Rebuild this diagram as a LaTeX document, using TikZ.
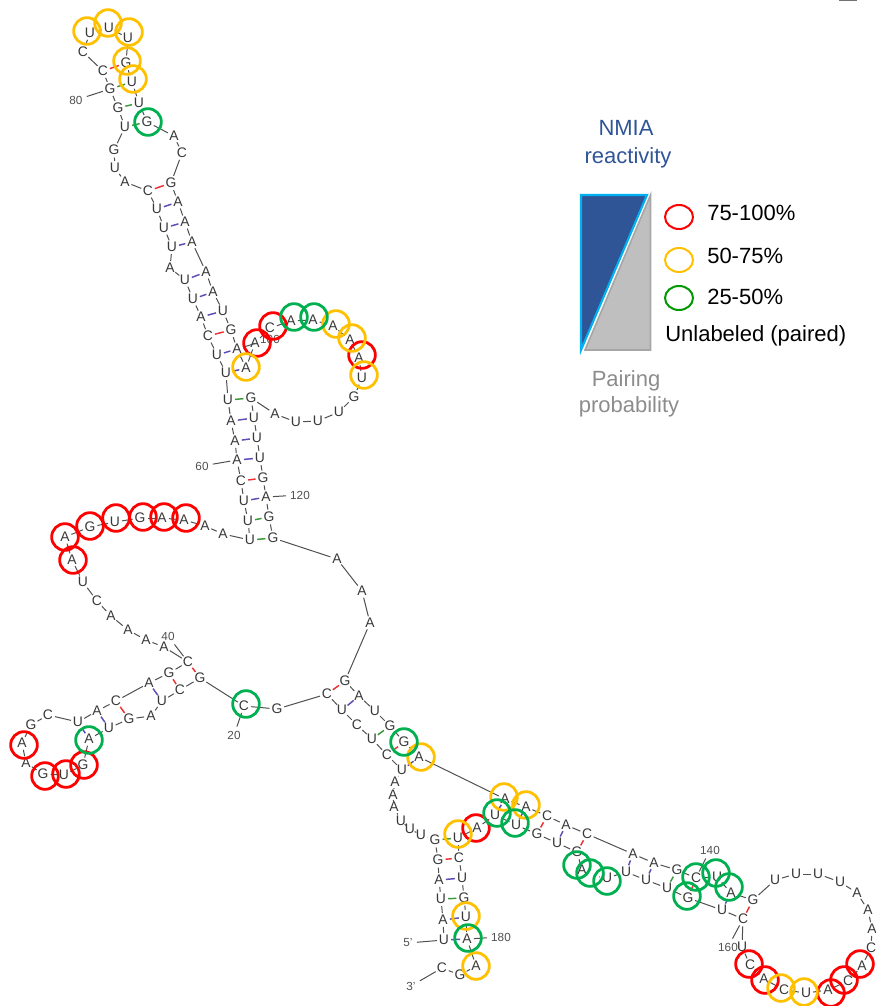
\documentclass[tikz,border=0pt]{standalone}
\usepackage{fontspec}
\setmainfont{Liberation Sans}
\definecolor{ink}{HTML}{383838}
\definecolor{backb}{HTML}{505050}
\definecolor{auc}{HTML}{5A4FB5}
\definecolor{gcc}{HTML}{F03030}
\definecolor{guc}{HTML}{3C9A3C}
\definecolor{hred}{HTML}{FF0000}
\definecolor{hyel}{HTML}{FFC000}
\definecolor{hgrn}{HTML}{00B050}
\definecolor{navy}{HTML}{2F5597}
\definecolor{cyanb}{HTML}{00B0F0}
\definecolor{lab}{HTML}{505050}
\tikzset{
  base/.style={circle,inner sep=0pt,minimum size=9pt,text=ink,font=\fontsize{10.4}{11}\selectfont},
  backbone/.style={draw=backb,line width=0.75pt},
  au/.style={draw=auc,line width=1.1pt},
  gc/.style={draw=gcc,line width=1.1pt},
  gu/.style={draw=guc,line width=1.1pt},
  ring/.style={circle,draw=#1,line width=2.1pt,inner sep=0pt,minimum size=20pt},
  num/.style={text=lab,font=\fontsize{8.8}{9}\selectfont,inner sep=3pt},
  legtext/.style={font=\fontsize{16.5}{18}\selectfont,inner sep=0pt},
  legring/.style={ellipse,draw=#1,line width=1.5pt,inner sep=0pt,minimum width=21pt,minimum height=18pt}
}
\usetikzlibrary{shapes.geometric}
\begin{document}
\begin{tikzpicture}[x=0.75pt,y=-0.75pt]
\useasboundingbox (0,0) rectangle (875,1006);
% nucleotides, 5' to 3'
\foreach \i/\x/\y/\t in {
1/444/940/U,2/443/920/A,3/441/899/U,4/439/880/A,5/438/860/G,6/435/840/G,7/421/835/U,8/410/829/U,9/401/821/U,10/394/807/A,
11/393/795/A,12/395/782/A,13/402/770/U,14/387/755/C,15/372/739/U,16/357/725/C,17/342/710/U,18/327/694/C,19/277/709/G,20/244/706/C,
21/200/678/G,22/180/690/C,23/162/701/U,24/151/716/A,25/129/719/G,26/109/728/U,27/89/739/A,28/83/765/G,29/64/775/U,30/43/774/G,
31/26/763/A,32/22/743/A,33/31/725/G,34/48/715/C,35/78/722/U,36/97/711/A,37/116/701/C,38/149/683/A,39/169/673/G,40/188/662/C,
41/164/647/A,42/146/640/A,43/128/630/A,44/111/616/A,45/97/601/C,46/83/582/U,47/72/560/A,48/65/537/A,49/90/527/G,50/115/522/U,
51/140/518/G,52/162/518/A,53/184/520/A,54/205/526/A,55/223/534/A,56/250/540/U,57/248/521/U,58/244/501/U,59/241/481/C,60/237/460/A,
61/235/441/A,62/231/421/A,63/228/400/U,64/226/373/U,65/217/355/U,66/208/336/C,67/201/317/A,68/193/299/U,69/185/280/U,70/170/268/A,
71/172/247/U,72/164/228/U,73/157/209/U,74/148/191/C,75/125/182/A,76/115/168/U,77/114/150/G,78/125/127/U,79/118/108/G,80/110/89/G,
81/103/71/C,82/83/52/C,83/90/33/U,84/109/28/U,85/128/38/U,86/126/63/G,87/132/82/U,88/139/103/U,89/147/122/G,90/174/136/A,
91/182/153/C,92/171/183/G,93/178/202/A,94/185/222/A,95/192/242/A,96/206/272/A,97/213/292/A,98/223/311/U,99/231/330/G,100/237/349/A,
101/246/368/A,102/255/343/A,103/270/328/C,104/291/321/A,105/313/320/A,106/333/326/A,107/350/340/A,108/359/358/A,109/362/378/U,110/354/397/G,
111/339/412/U,112/318/421/U,113/296/422/U,114/275/414/A,115/251/398/G,116/254/418/U,117/257/438/U,118/260/458/U,119/263/478/G,120/266/497/A,
121/269/517/G,122/273/538/G,123/337/559/A,124/362/591/A,125/370/623/A,126/345/681/G,127/359/696/A,128/375/711/U,129/390/726/G,130/404/742/G,
131/419/757/A,132/505/799/A,133/526/807/A,134/547/816/C,135/566/825/A,136/587/834/C,137/633/854/A,138/654/863/A,139/677/870/G,140/696/878/C,
141/717/877/U,142/731/893/A,143/753/900/G,144/775/880/U,145/796/874/U,146/818/874/U,147/840/882/U,148/857/893/A,149/868/910/A,150/872/929/A,
151/871/948/C,152/862/966/A,153/848/981/C,154/828/990/A,155/806/993/U,156/784/990/C,157/764/979/A,158/750/965/C,159/742/947/U,160/743/919/C,
161/722/910/U,162/688/898/G,163/667/888/U,164/646/880/U,165/626/872/U,166/607/878/U,167/593/876/{},168/582/870/A,169/577/852/G,170/557/843/U,
171/537/834/G,172/516/825/U,173/495/815/U,174/477/828/A,175/458/838/U,176/459/858/C,177/462/878/U,178/464/898/G,179/466/917/U,180/467/939/A,
181/476/966/A,182/460/975/G,183/442/968/C}
  {\node[base] (n\i) at (\x,\y) {\t};}
% backbone
\foreach \i [evaluate=\i as \j using int(\i+1)] in {1,...,182}
  {\draw[backbone] (n\i) -- (n\j);}
% base pairs
\foreach \a/\b in {1/180,2/179,4/177,13/131,17/127,23/38,26/36,27/35,58/120,60/118,61/117,62/116,64/101,65/100,67/98,68/97,69/96,71/95,72/94,73/93,132/173,133/172,135/170,137/165,138/164,142/161}
  {\draw[au] (n\a) -- (n\b);}
\foreach \a/\b in {5/176,14/130,18/126,21/40,22/39,25/37,59/119,66/99,74/92,81/86,134/171,136/169,140/162,143/160}
  {\draw[gc] (n\a) -- (n\b);}
\foreach \a/\b in {3/178,6/175,15/129,56/122,57/121,63/115,78/89,79/88,80/87,139/163}
  {\draw[gu] (n\a) -- (n\b);}
% position labels and their ticks
\foreach \i/\x/\y/\t in {20/234/735/20,40/168/636/40,60/202/466/60,80/76/100/80,100/270/339/100,120/300/495/120,140/710/850/140,160/728/947/160,180/501/937/180,1/408/943/5',183/411/986/3'}
  {\node[num] (l\i) at (\x,\y) {\t};
   \draw[backbone] (l\i) -- (n\i);}
% reactivity rings
\foreach \i/\x/\y in {102/257/343,103/273/326,108/362/355,47/73/560,48/65/537,49/90/526,50/116/518,51/143/517,52/164/517,53/186/518,32/24/745,30/45/776,29/66/774,28/84/765,174/476/828,158/749/964,157/765/980,154/831/993,153/844/980,152/860/964}
  {\node[ring=hred] (c\i) at (\x,\y) {};}
\foreach \i/\x/\y in {83/87/31,84/108/23,85/129/32,86/127/61,87/133/79,106/336/324,107/352/338,109/364/375,101/246/367,131/421/757,132/504/797,133/526/805,175/458/834,179/466/916,181/476/966,156/781/988,155/804/992}
  {\node[ring=hyel] (c\i) at (\x,\y) {};}
\foreach \i/\x/\y in {89/148/122,104/294/317,105/314/317,27/89/740,20/246/704,130/404/742,173/497/813,172/515/823,168/577/865,167/590/873,166/607/881,162/687/896,140/696/877,141/716/873,142/729/887,180/468/938}
  {\node[ring=hgrn] (c\i) at (\x,\y) {};}
% legend
\node[text=navy,font=\fontsize{16.5}{18}\selectfont,inner sep=0pt] (t1) at (626,128) {NMIA};
\node[text=navy,font=\fontsize{16.5}{18}\selectfont,inner sep=0pt] (t2) at (628,158) {reactivity};
\fill[navy] (581,195) -- (647,195) -- (581,350) -- cycle;
\draw[cyanb,line width=1.6pt,line join=miter] (581,195) -- (647,195) -- (581,350) -- cycle;
\fill[black!25] (650.5,195) -- (650.5,350) -- (585,350) -- cycle;
\draw[black!35,line width=1.2pt] (650.5,195) -- (650.5,350) -- (585,350) -- cycle;
\node[text=black!45,font=\fontsize{16.5}{18}\selectfont,inner sep=0pt] (t3) at (626,381) {Pairing};
\node[text=black!45,font=\fontsize{16.5}{18}\selectfont,inner sep=0pt] (t4) at (629,407) {probability};
\node[legring=hred] (e1) at (679,217) {};
\node[legring=hyel] (e2) at (679,260) {};
\node[legring={green!60!black}] (e3) at (679,298) {};
\node[legtext,anchor=west] (s1) at (707,213) {75-100\%};
\node[legtext,anchor=west] (s2) at (707,256) {50-75\%};
\node[legtext,anchor=west] (s3) at (707,297) {25-50\%};
\node[legtext,anchor=west] (s4) at (665,336) {Unlabeled (paired)};
\draw[black!55,line width=1pt] (839,0.5) -- (857,0.5);
\end{tikzpicture}
\end{document}
